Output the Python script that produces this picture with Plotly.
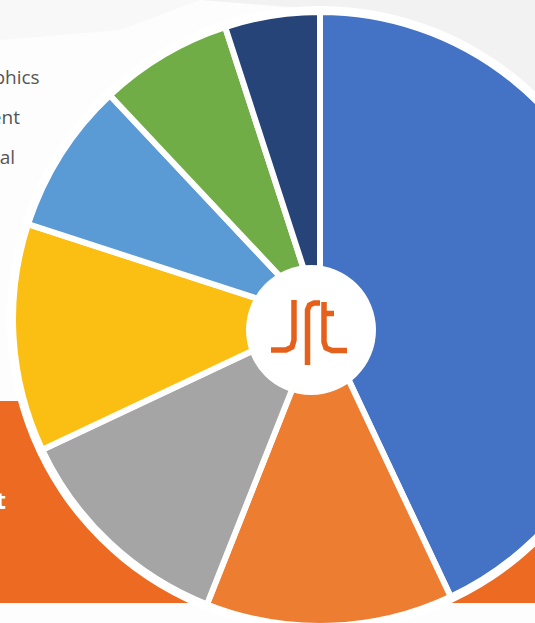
import plotly.graph_objects as go

# ---- data ----
categories = ["Digital Marketing", "Branding", "Web Design", "Print",
              "Social Media", "Video", "Photography"]
values = [43, 13, 12, 12, 8, 7, 5]
slice_colors = ["#4472C4", "#ED7D31", "#A5A5A5", "#FBBF14",
                "#5B9BD5", "#70AD47", "#264478"]
side_labels = ["Infographics", "Content", "Editorial"]
banner_label = "Our Client Mix at Jrt"

# ---- canvas (pixel helpers) ----
W, H = 640, 640
CX, CY, R = 320, 319, 307


def px(x):
    return x / W


def py(y):
    return 1 - y / H


def path(points):
    return "M " + " L ".join(f"{px(x):.5f},{py(y):.5f}" for x, y in points)


fig = go.Figure()
fig.add_trace(go.Pie(
    labels=categories, values=values, sort=False, direction="clockwise",
    rotation=0, textinfo="none", hoverinfo="label+percent",
    marker=dict(colors=slice_colors, line=dict(color="white", width=6)),
    domain=dict(x=[px(CX - R), px(CX + R)], y=[py(CY + R), py(CY - R)]),
    showlegend=False,
))

shapes = []
# faint grey background band at top right
shapes.append(dict(type="path", xref="paper", yref="paper", layer="below",
                   path=path([(200, 0), (640, 0), (640, 200), (560, 110), (440, 40), (300, 8)]) + " Z",
                   fillcolor="#F2F2F2", line=dict(width=0)))
shapes.append(dict(type="path", xref="paper", yref="paper", layer="below",
                   path=path([(0, 0), (200, 0), (120, 30), (0, 40)]) + " Z",
                   fillcolor="#F8F8F8", line=dict(width=0)))
# orange banner behind the pie
shapes.append(dict(type="rect", xref="paper", yref="paper", layer="below",
                   x0=0, x1=1, y0=py(603), y1=py(401),
                   fillcolor="#EC6A22", line=dict(width=0)))
# white outline around the pie
shapes.append(dict(type="circle", xref="paper", yref="paper", layer="below",
                   x0=px(CX - R - 6), x1=px(CX + R + 6),
                   y0=py(CY + R + 6), y1=py(CY - R - 6),
                   fillcolor="white", line=dict(width=0)))
# white centre disc for the logo
HX, HY, HR = 311, 330, 65
shapes.append(dict(type="circle", xref="paper", yref="paper", layer="above",
                   x0=px(HX - HR), x1=px(HX + HR), y0=py(HY + HR), y1=py(HY - HR),
                   fillcolor="white", line=dict(width=0)))
# logo strokes
logo = "#E5611B"
lw = 5.5
strokes = [
    # J
    [(294, 300), (294, 340), (292, 347), (286, 350), (271, 350)],
    # r
    [(307.5, 365), (307.5, 310), (309.5, 305), (314, 303), (320, 303)],
    # t stem and foot
    [(324, 302), (324, 342), (326, 348), (332, 350.5), (347, 350.5)],
    # t cross bar
    [(324, 313.5), (334, 313.5)],
]
for s in strokes:
    shapes.append(dict(type="path", xref="paper", yref="paper", layer="above",
                       path=path(s), line=dict(color=logo, width=lw)))

annotations = []
for lab, xr, yc in zip(side_labels, [42, 22, 17], [77, 117, 157]):
    annotations.append(dict(text=lab, xref="paper", yref="paper",
                            x=px(xr), y=py(yc), xanchor="right", yanchor="middle",
                            showarrow=False,
                            font=dict(family="Open Sans, Lato, sans-serif", size=19, color="#555555")))
annotations.append(dict(text="<b>" + banner_label + "</b>", xref="paper", yref="paper",
                        x=px(8), y=py(500), xanchor="right", yanchor="middle",
                        showarrow=False,
                        font=dict(family="Open Sans, Lato, sans-serif", size=23, color="white")))

fig.update_layout(
    width=W, height=H, margin=dict(l=0, r=0, t=0, b=0),
    paper_bgcolor="#FDFDFD", plot_bgcolor="#FDFDFD",
    shapes=shapes, annotations=annotations, showlegend=False,
)

fig.write_html(
    "out.html",
    post_script="document.body.style.margin='0';document.body.style.overflow='hidden';"
                "document.documentElement.style.overflow='hidden';",
)
